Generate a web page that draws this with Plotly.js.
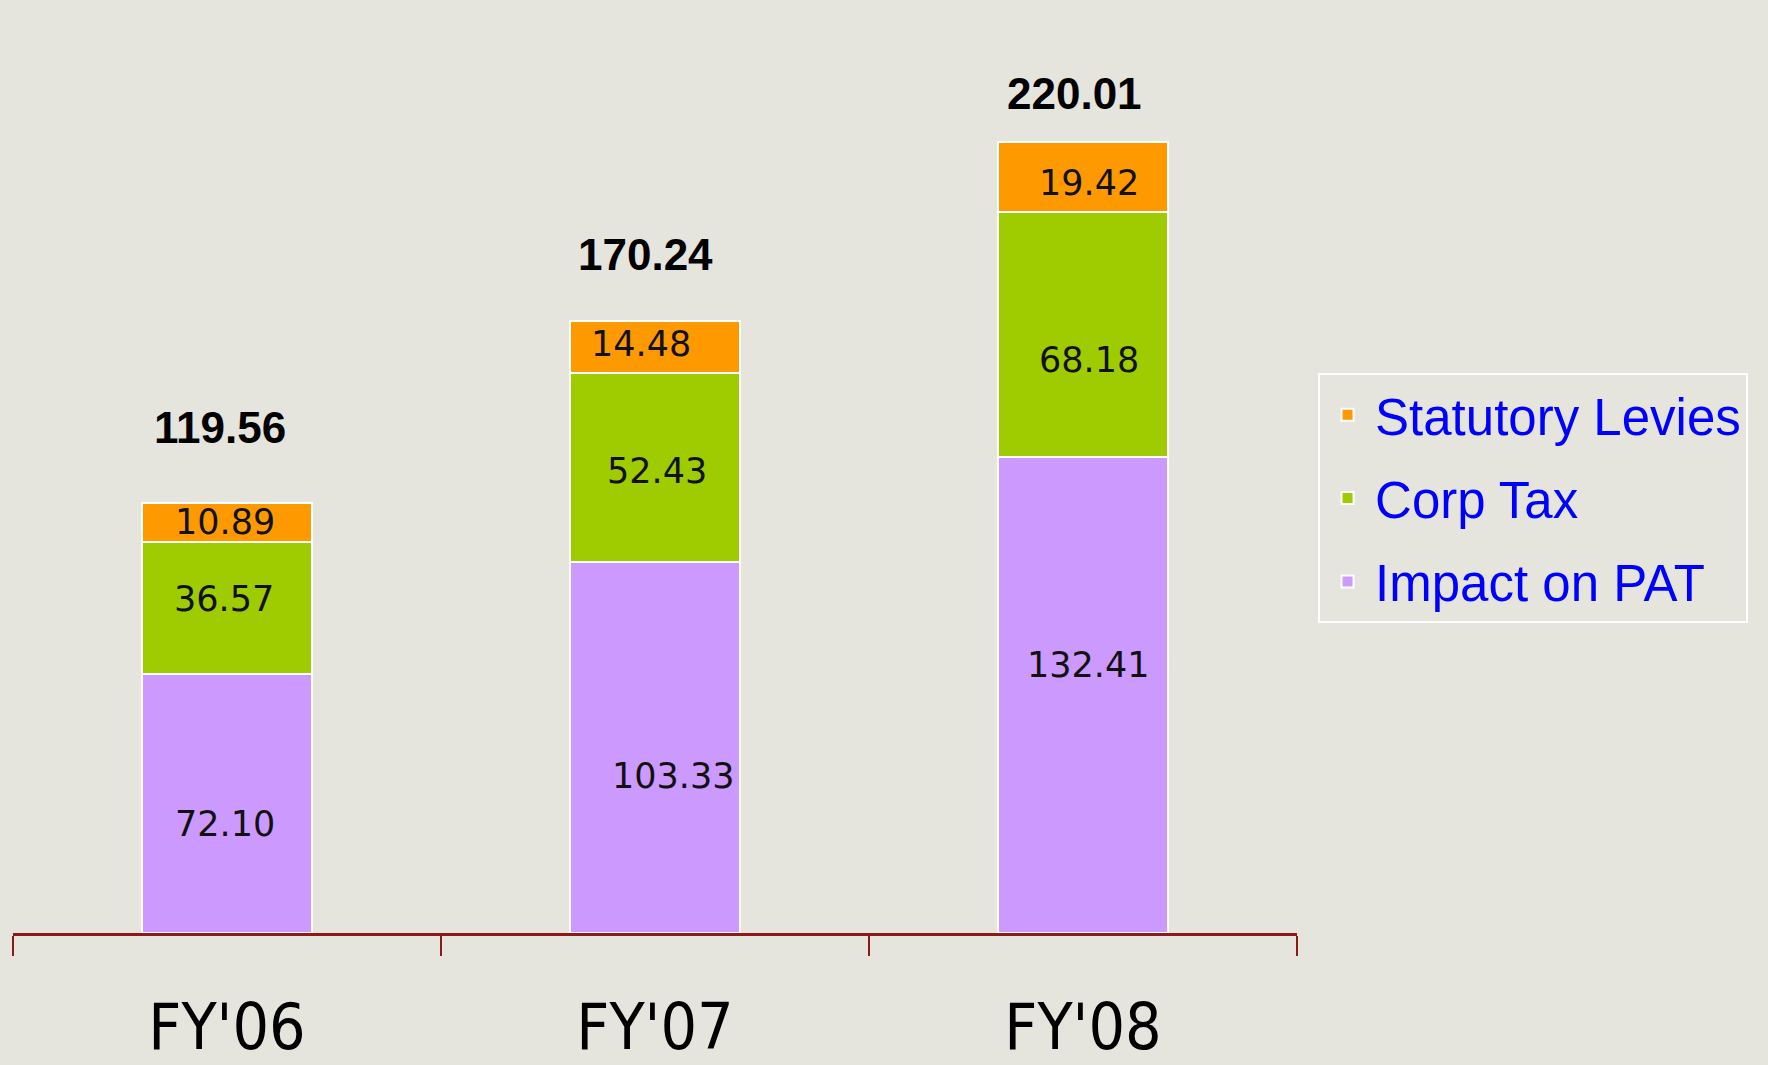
<!DOCTYPE html>
<html>
<head>
<meta charset="utf-8">
<script src="https://cdn.plot.ly/plotly-3.0.1.min.js"></script>
<style>
  html, body { margin: 0; padding: 0; background: #e5e5dd; }
  #chart { width: 1768px; height: 1065px; }
</style>
</head>
<body>
<div id="chart"></div>
<script>
// ---- data ----
const categories = ["FY'06", "FY'07", "FY'08"];
const impactOnPAT = [72.10, 103.33, 132.41];
const corpTax = [36.57, 52.43, 68.18];
const statutoryLevies = [10.89, 14.48, 19.42];
const totals = [119.56, 170.24, 220.01];
const seriesNames = ["Impact on PAT", "Corp Tax", "Statutory Levies"];

// ---- styling / label nudges (pixels) ----
const colors = ["#cc99ff", "#9ecc00", "#ff9900"];
const legendRanks = [3, 2, 1];
const innerNudges = [ // [series][category] -> [dx, dy]
  [[-2, -21], [18, -29], [5, 30]],
  [[-3, 9], [2, -4], [6, -26]],
  [[-2, 1], [-14, 3], [6, -6]]
];
const totalNudges = [[-7, 76], [-10, 67], [-9, 49]];

const series = [impactOnPAT, corpTax, statutoryLevies];
const groups = ["g1", "g2", "g3"];

const traces = series.map((vals, i) => ({
  type: 'bar',
  name: seriesNames[i],
  x: categories,
  y: vals,
  legendgroup: groups[i],
  legendrank: legendRanks[i],
  marker: { color: colors[i], line: { color: '#ffffff', width: 2 } },
  hoverinfo: 'name+y'
}));

const annotations = [];
categories.forEach((cat, c) => {
  let base = 0;
  series.forEach((vals, s) => {
    annotations.push({
      x: cat, y: base + vals[c] / 2, xref: 'x', yref: 'y',
      text: vals[c].toFixed(2), showarrow: false,
      xanchor: 'center', yanchor: 'middle',
      xshift: innerNudges[s][c][0], yshift: innerNudges[s][c][1],
      font: { family: 'DejaVu Sans, Verdana, sans-serif', size: 35, color: '#111111' }
    });
    base += vals[c];
  });
  annotations.push({
    x: cat, y: totals[c], xref: 'x', yref: 'y',
    text: '<b>' + totals[c].toFixed(2) + '</b>', showarrow: false,
    xanchor: 'center', yanchor: 'middle',
    xshift: totalNudges[c][0], yshift: totalNudges[c][1],
    font: { family: 'Liberation Sans, Arial, sans-serif', size: 44, color: '#000000' }
  });
});

const layout = {
  width: 1768, height: 1065,
  paper_bgcolor: '#e5e5dd', plot_bgcolor: 'rgba(0,0,0,0)',
  margin: { l: 13, r: 471, t: 30, b: 132, pad: 0 },
  barmode: 'stack',
  bargap: 0.603,
  showlegend: true,
  legend: {
    x: 1.0164, xanchor: 'left', y: 0.62, yanchor: 'top',
    traceorder: 'grouped', tracegroupgap: 14,
    itemwidth: 45,
    bgcolor: 'rgba(0,0,0,0)', bordercolor: '#ffffff', borderwidth: 2,
    font: { family: 'Liberation Sans, Arial, sans-serif', size: 51, color: '#0000ff' }
  },
  xaxis: {
    type: 'category',
    tickson: 'boundaries',
    ticks: 'outside', ticklen: 20, tickwidth: 2, tickcolor: '#8b1a1a',
    showline: true, linecolor: '#8b1a1a', linewidth: 3,
    showgrid: false, zeroline: false,
    ticklabelstandoff: 36,
    tickfont: { family: 'DejaVu Sans Condensed, Liberation Sans Narrow, sans-serif', size: 64, color: '#000000' }
  },
  yaxis: {
    range: [0, 251.2], visible: false, showgrid: false, zeroline: false, fixedrange: true
  },
  annotations: annotations
};

Plotly.newPlot('chart', traces, layout, { displayModeBar: false, staticPlot: true });
</script>
</body>
</html>
